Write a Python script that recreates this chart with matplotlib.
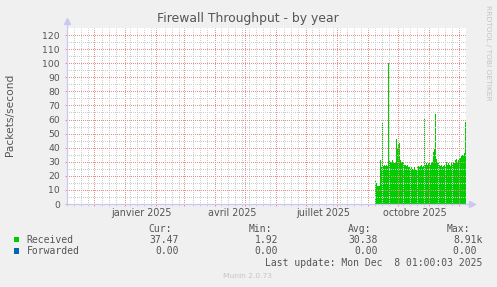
import pandas as pd
import matplotlib
matplotlib.use("Agg")
import matplotlib.pyplot as plt
import matplotlib.dates as mdates
from matplotlib.transforms import blended_transform_factory

W, H = 497, 287

TITLE = "Firewall Throughput - by year"
YLABEL = "Packets/second"
T_START = pd.Timestamp("2024-11-04 09:00")
T_END = pd.Timestamp("2025-12-08 01:00")

# daily samples of "Received" (packets/s)
recv_start = "2025-09-07 16:00"
recv_values = [16, 15, 13, 13, 13, 31, 26, 58, 27, 28, 27, 28, 27, 100, 31, 30,
               29, 31, 30, 29, 30, 46, 40, 42, 43, 31, 29, 30, 29, 28, 28, 27,
               28, 26, 26, 25, 26, 25, 24, 26, 25, 24, 26, 27, 26, 27, 28, 26,
               27, 61, 28, 29, 28, 29, 29, 28, 29, 30, 37, 39, 64, 32, 30, 29,
               28, 27, 28, 26, 27, 28, 27, 30, 28, 29, 28, 27, 29, 28, 30, 29,
               31, 32, 30, 31, 33, 33, 34, 35, 34, 36, 58, 37]

yticks = list(range(0, 121, 10))
month_label_dates = ["2025-01-01", "2025-04-01", "2025-07-01", "2025-10-01"]
month_labels = ["janvier 2025", "avril 2025", "juillet 2025", "octobre 2025"]

legend_names = ["Received", "Forwarded"]
legend_colors = ["#00CC00", "#0066B3"]
stat_cur = ["37.47", "0.00"]
stat_min = ["1.92", "0.00"]
stat_avg = ["30.38", "0.00"]
stat_max = ["8.91k", "0.00 "]
last_update = "Last update: Mon Dec  8 01:00:03 2025"

TXT = "#555555"
AXC = "#c8c8f0"
MGRID = "#e68e8e"
GRID = "#cdcdcd"
DOTS = (0.5, (1, 1))


def fx(x):
    return x / W


def fy(y):
    return 1 - y / H


fig = plt.figure(figsize=(W / 100, H / 100), dpi=100, facecolor="#f0f0f0")
left, right, top, bottom = 67, 466, 28, 204
ax = fig.add_axes([fx(left), fy(bottom), (right - left) / W, (bottom - top) / H])
ax.set_facecolor("white")

dates = pd.date_range(recv_start, periods=len(recv_values), freq="D")
ax.fill_between(dates, 0, recv_values, step="post", color="#00CC00",
                lw=0, antialiased=False, zorder=1)

ax.set_xlim(T_START, T_END)
ax.set_ylim(0, 125)

# weekly minor lines, skipping the ones that sit right next to a month line
weeks = pd.date_range(T_START, T_END, freq="W-MON")
weeks = [w for w in weeks if min(w.day - 1, (w + pd.offsets.MonthEnd(0)).day - w.day + 1) > 2]
ax.xaxis.set_major_locator(mdates.MonthLocator())
ax.set_xticks(weeks, minor=True)
ax.set_yticks(yticks)
ax.set_yticks(range(5, 125, 10), minor=True)
ax.set_axisbelow(False)
ax.grid(which="minor", color=GRID, alpha=1, lw=0.72, ls=DOTS, zorder=2)
ax.grid(which="major", color=MGRID, alpha=1, lw=0.72, ls=DOTS, zorder=3)
ax.set_xticklabels([])
ax.set_xticklabels([], minor=True)
ax.tick_params(axis="x", which="major", length=1.5, color=MGRID, width=0.7)
ax.tick_params(axis="x", which="minor", length=1.5, color=GRID, width=0.7)
ax.tick_params(axis="y", which="major", length=1.5, color=MGRID, width=0.7,
               labelsize=6.7, labelcolor=TXT, pad=3.5)
ax.tick_params(axis="y", which="minor", length=0)
for s in ax.spines.values():
    s.set_visible(False)

# axis lines with arrows
ax.plot([0, 1.012], [0, 0], transform=ax.transAxes, color=AXC, lw=0.9,
        clip_on=False, zorder=5)
ax.plot([0, 0], [0, 1.035], transform=ax.transAxes, color=AXC, lw=0.9,
        clip_on=False, zorder=5)
ax.plot([1.014], [0], marker=">", ms=4, color=AXC, transform=ax.transAxes,
        clip_on=False, zorder=5)
ax.plot([0], [1.037], marker="^", ms=4, color=AXC, transform=ax.transAxes,
        clip_on=False, zorder=5)

# month labels, shifted to mid-month like rrdtool
tr = blended_transform_factory(ax.transData, fig.transFigure)
for d, lab in zip(month_label_dates, month_labels):
    xd = pd.Timestamp(d) + pd.Timedelta(days=17)
    ax.text(xd, fy(213), lab, transform=tr, ha="center", va="center",
            fontsize=6.9, color=TXT)

fig.text(fx(248.3), fy(22.3), TITLE, ha="center", va="baseline",
         fontsize=8.9, color=TXT)
fig.text(fx(10.5), fy(115), YLABEL, rotation=90, ha="center", va="center",
         fontsize=7.7, color=TXT)
fig.text(fx(488), fy(5), "RRDTOOL / TOBI OETIKER", rotation=270, ha="center",
         va="top", fontsize=5.4, color="#c4c4c4")

# legend block
mono = dict(family="DejaVu Sans Mono", fontsize=7.0, color=TXT, va="center")
for x_end, lab in [(172, "Cur:"), (272, "Min:"), (371, "Avg:"), (470, "Max:")]:
    fig.text(fx(x_end), fy(228.5), lab, ha="right", **mono)
rows_y = [239.7, 251.0]
for i, name in enumerate(legend_names):
    y = rows_y[i]
    fig.patches.append(plt.Rectangle((fx(14), fy(y + 2.6)), 5.3 / W, 5.3 / H,
                                     transform=fig.transFigure,
                                     color=legend_colors[i], lw=0))
    fig.text(fx(26.5), fy(y), name, ha="left", **mono)
    fig.text(fx(178.5), fy(y), stat_cur[i], ha="right", **mono)
    fig.text(fx(278.3), fy(y), stat_min[i], ha="right", **mono)
    fig.text(fx(378), fy(y), stat_avg[i], ha="right", **mono)
    fig.text(fx(482.5), fy(y), stat_max[i], ha="right", **mono)
fig.text(fx(482.5), fy(263.3), last_update, ha="right", **mono)
fig.text(fx(247.8), fy(276), "Munin 2.0.73", ha="center", va="center",
         fontsize=5.4, color="#c4c4c4")

fig.savefig("out.png", dpi=100, facecolor=fig.get_facecolor())
